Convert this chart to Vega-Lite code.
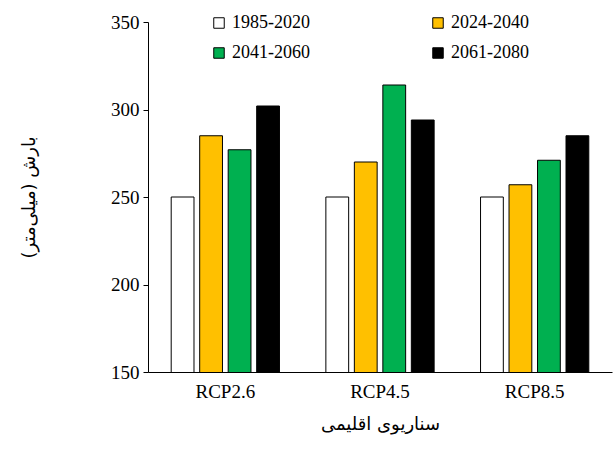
{
  "$schema": "https://vega.github.io/schema/vega-lite/v6.json",
  "width": 464,
  "height": 350,
  "autosize": {"type": "none"},
  "padding": {"left": 148, "top": 22, "right": 3, "bottom": 81},
  "config": {
    "view": {"stroke": null},
    "font": "Liberation Serif",
    "axis": {"labelFont": "Liberation Serif", "labelFontSize": 19, "labelColor": "black", "domainColor": "black", "tickColor": "black", "grid": false, "titleFontSize": 18, "titleFontWeight": "normal", "titleColor": "black", "titleFont": "DejaVu Sans"}
  },
  "data": {
    "values": [
      {"scenario": "RCP2.6", "period": "1985-2020", "value": 250},
      {"scenario": "RCP2.6", "period": "2024-2040", "value": 285},
      {"scenario": "RCP2.6", "period": "2041-2060", "value": 277},
      {"scenario": "RCP2.6", "period": "2061-2080", "value": 302},
      {"scenario": "RCP4.5", "period": "1985-2020", "value": 250},
      {"scenario": "RCP4.5", "period": "2024-2040", "value": 270},
      {"scenario": "RCP4.5", "period": "2041-2060", "value": 314},
      {"scenario": "RCP4.5", "period": "2061-2080", "value": 294},
      {"scenario": "RCP8.5", "period": "1985-2020", "value": 250},
      {"scenario": "RCP8.5", "period": "2024-2040", "value": 257},
      {"scenario": "RCP8.5", "period": "2041-2060", "value": 271},
      {"scenario": "RCP8.5", "period": "2061-2080", "value": 285}
    ]
  },
  "mark": {"type": "bar", "stroke": "black", "strokeWidth": 1, "clip": true},
  "encoding": {
    "x": {"field": "scenario", "type": "nominal", "title": "سناریوی اقلیمی", "scale": {"paddingInner": 0.3, "paddingOuter": 0.15},
      "axis": {"labelAngle": 0, "ticks": false, "labelPadding": 10, "titlePadding": 14}},
    "xOffset": {"field": "period", "type": "nominal", "scale": {"paddingInner": 0.2}},
    "y": {"field": "value", "type": "quantitative", "title": "بارش (میلی‌متر)", "scale": {"domain": [150, 350], "zero": false},
      "axis": {"values": [150, 200, 250, 300, 350], "tickSize": 5, "labelPadding": 4, "titlePadding": 72}},
    "color": {"field": "period", "type": "nominal",
      "scale": {"domain": ["1985-2020", "2024-2040", "2041-2060", "2061-2080"], "range": ["white", "#FFC000", "#00B050", "black"]},
      "legend": {"title": null, "orient": "none", "legendX": 62, "legendY": -8, "columns": 2, "columnPadding": 119, "rowPadding": 12, "symbolType": "square", "symbolSize": 110, "symbolStrokeColor": "black", "symbolStrokeWidth": 1, "labelFontSize": 18, "labelFont": "Liberation Serif", "labelColor": "black", "symbolOpacity": 1,
        "values": ["1985-2020", "2041-2060", "2024-2040", "2061-2080"]}}
  }
}
